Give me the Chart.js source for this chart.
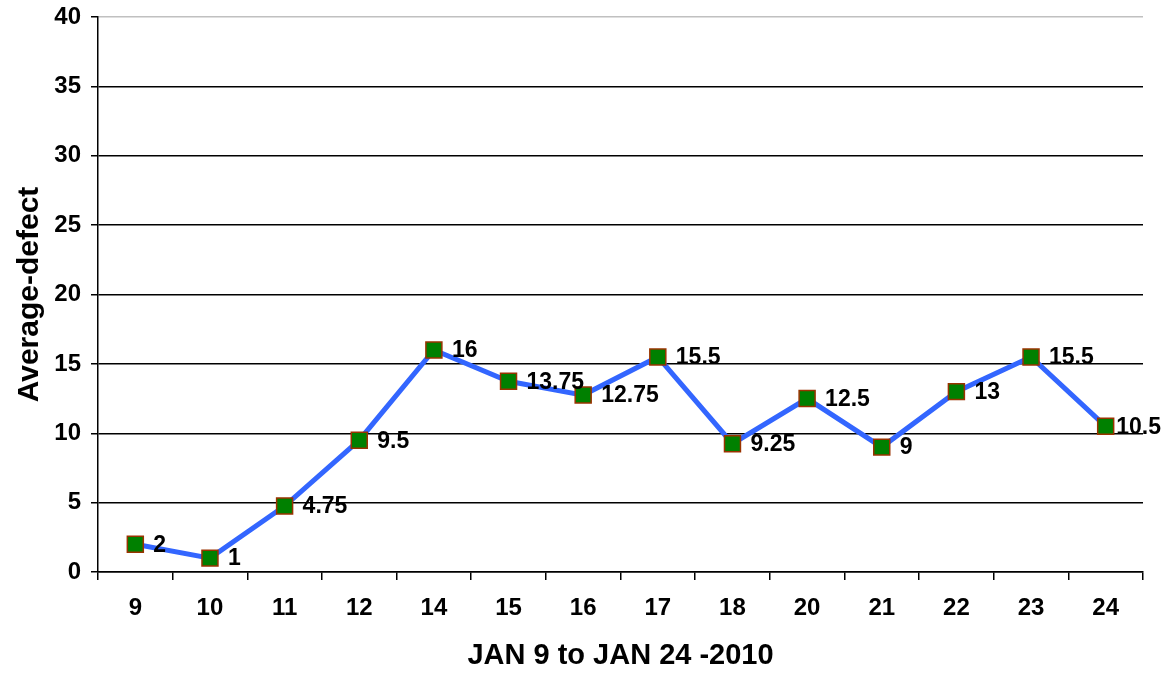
<!DOCTYPE html>
<html lang="en">
<head>
  <meta charset="UTF-8" />
  <title>Average defect</title>
  <script src="https://cdn.jsdelivr.net/npm/chart.js"></script>
  <style>
    html, body { margin: 0; padding: 0; background: #fff; }
    #wrap { width: 1167px; height: 673px; }
  </style>
</head>
<body>
  <div id="wrap"><canvas id="defectChart" width="1167" height="673"></canvas></div>

  <script>
    const days = ["9", "10", "11", "12", "14", "15", "16", "17", "18", "20", "21", "22", "23", "24"];
    const avgDefect = [2, 1, 4.75, 9.5, 16, 13.75, 12.75, 15.5, 9.25, 12.5, 9, 13, 15.5, 10.5];
    const yMax = 40;
    const yStep = 5;

    const font = "Arial, 'Liberation Sans', sans-serif";

    // labels next to each point, pulled back in if they would run off the canvas
    const pointLabels = {
      id: "pointLabels",
      afterDatasetsDraw(chart) {
        const c = chart.ctx;
        const meta = chart.getDatasetMeta(0);
        c.save();
        c.font = "bold 23px " + font;
        c.fillStyle = "#000";
        c.textAlign = "left";
        c.textBaseline = "middle";
        meta.data.forEach((pt, i) => {
          const txt = String(avgDefect[i]);
          const w = c.measureText(txt).width;
          let x = pt.x + 18;
          if (x + w > chart.width - 6) x = chart.width - 6 - w;
          c.fillText(txt, x, pt.y + 1);
        });
        c.restore();
      }
    };

    const ctx = document.getElementById("defectChart").getContext("2d");
    new Chart(ctx, {
      type: "line",
      data: {
        labels: days,
        datasets: [{
          data: avgDefect,
          borderColor: "#3366ff",
          borderWidth: 5,
          tension: 0,
          pointStyle: "rect",
          pointRadius: 11.3,
          pointBackgroundColor: "#008000",
          pointBorderColor: "#993300",
          pointBorderWidth: 1.5
        }]
      },
      options: {
        responsive: false,
        animation: false,
        layout: { padding: { top: 17, right: 24, left: 0, bottom: 0 } },
        plugins: {
          legend: { display: false },
          tooltip: { enabled: false }
        },
        scales: {
          x: {
            offset: true,
            grid: {
              offset: true,
              drawOnChartArea: false,
              drawTicks: true,
              tickLength: 8,
              color: "#000",
              lineWidth: 1.5
            },
            border: { color: "#000", width: 1.5 },
            ticks: {
              color: "#000",
              padding: 14,
              maxRotation: 0,
              font: { family: font, size: 24, weight: "bold" }
            },
            title: {
              display: true,
              text: "JAN 9 to JAN 24 -2010",
              color: "#000",
              padding: { top: 0, bottom: 0 },
              font: { family: font, size: 29, weight: "bold" }
            },
            afterFit(scale) {
              scale.height = 101;
              scale.paddingLeft = 0;
              scale.paddingRight = 0;
            }
          },
          y: {
            min: 0,
            max: yMax,
            ticks: {
              stepSize: yStep,
              color: "#000",
              padding: 10,
              font: { family: font, size: 24, weight: "bold" }
            },
            grid: {
              color: c => (c.tick && c.tick.value === yMax ? "#c0c0c0" : "#000"),
              lineWidth: 1.5,
              tickLength: 7,
              tickColor: "#000"
            },
            border: { color: "#000", width: 1.5 },
            title: {
              display: true,
              text: "Average-defect",
              color: "#000",
              padding: { top: 12, bottom: 0 },
              font: { family: font, size: 30, weight: "bold" }
            },
            afterFit(scale) {
              scale.width = 98;
              scale.paddingTop = 0;
              scale.paddingBottom = 0;
            }
          }
        }
      },
      plugins: [pointLabels]
    });
  </script>
</body>
</html>
